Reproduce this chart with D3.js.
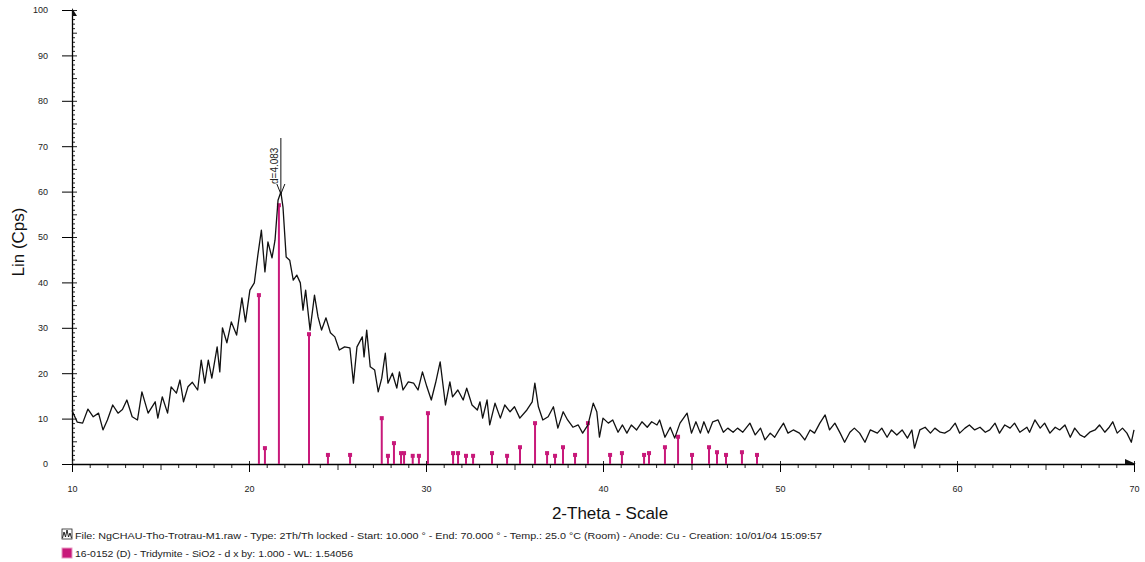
<!DOCTYPE html>
<html>
<head>
<meta charset="utf-8">
<script src="https://cdn.jsdelivr.net/npm/d3@7"></script>
<style>
body { margin: 0; background: #fff; }
svg { display: block; font-family: "Liberation Sans", Arial, sans-serif; }
</style>
</head>
<body>
<script>
// measured scan, [2-theta, counts]
const scan = [
  [10.0, 11.8], [10.3, 9.2], [10.6, 9.0], [10.9, 12.1], [11.2, 10.4], [11.5, 11.2], [11.75, 7.5],
  [12.0, 9.7], [12.3, 13.0], [12.6, 11.2], [12.85, 12.0], [13.1, 14.1], [13.4, 10.4], [13.7, 9.7],
  [13.95, 15.9], [14.3, 11.2], [14.7, 13.7], [14.85, 10.1], [15.1, 14.8], [15.4, 11.2], [15.6, 17.0],
  [15.9, 15.6], [16.1, 18.5], [16.3, 13.7], [16.55, 17.0], [16.8, 18.0], [17.1, 16.3], [17.3, 22.9],
  [17.5, 17.8], [17.7, 22.9], [17.9, 18.9], [18.2, 25.8], [18.35, 20.3], [18.5, 30.0], [18.75, 26.7],
  [19.0, 31.3], [19.3, 28.4], [19.6, 36.6], [19.8, 31.3], [20.05, 38.3], [20.3, 39.9], [20.5, 46.0],
  [20.7, 51.5], [20.9, 42.3], [21.07, 48.9], [21.3, 45.4], [21.47, 49.3], [21.64, 58.1], [21.8, 59.9],
  [21.92, 56.6], [22.1, 45.6], [22.3, 44.9], [22.5, 40.5], [22.7, 41.6], [22.9, 39.9], [23.05, 33.9],
  [23.2, 38.3], [23.45, 29.5], [23.7, 37.2], [23.9, 32.4], [24.1, 29.5], [24.35, 32.2], [24.6, 28.9],
  [24.85, 28.0], [25.1, 25.1], [25.4, 25.8], [25.7, 25.6], [25.9, 17.8], [26.1, 25.8], [26.4, 28.0],
  [26.5, 23.6], [26.65, 29.5], [26.85, 21.4], [27.1, 20.7], [27.3, 15.9], [27.5, 18.9], [27.7, 24.4],
  [27.85, 17.8], [28.1, 20.0], [28.35, 16.7], [28.5, 20.3], [28.7, 16.3], [29.0, 18.1], [29.3, 17.8],
  [29.55, 16.3], [29.8, 20.3], [30.05, 17.0], [30.3, 14.1], [30.55, 18.0], [30.8, 22.5], [31.1, 13.0],
  [31.35, 18.1], [31.5, 14.8], [31.8, 16.3], [32.1, 14.1], [32.3, 16.7], [32.6, 13.0], [32.9, 11.9],
  [33.05, 13.7], [33.2, 10.1], [33.45, 14.1], [33.6, 8.6], [33.9, 13.4], [34.2, 10.1], [34.45, 13.0],
  [34.75, 11.5], [35.0, 12.6], [35.3, 10.1], [35.7, 11.9], [36.0, 13.7], [36.15, 17.8], [36.35, 12.6],
  [36.6, 9.7], [36.9, 10.4], [37.2, 12.6], [37.45, 7.9], [37.75, 11.5], [38.0, 9.7], [38.3, 8.1],
  [38.6, 8.6], [38.85, 6.8], [39.15, 8.6], [39.45, 13.4], [39.65, 11.5], [39.8, 5.9], [40.0, 10.1],
  [40.3, 9.0], [40.55, 9.7], [40.85, 7.0], [41.1, 8.6], [41.35, 6.8], [41.6, 8.6], [41.9, 7.5],
  [42.2, 9.3], [42.5, 8.1], [42.75, 9.3], [43.05, 8.6], [43.2, 9.7], [43.5, 5.9], [43.8, 8.1],
  [44.05, 5.7], [44.35, 9.0], [44.75, 11.2], [45.0, 6.8], [45.25, 9.3], [45.5, 6.8], [45.7, 9.3],
  [45.95, 6.8], [46.2, 9.3], [46.5, 9.7], [46.8, 7.0], [47.05, 7.9], [47.35, 7.0], [47.6, 7.9],
  [47.9, 7.0], [48.3, 9.0], [48.6, 6.4], [48.9, 7.9], [49.15, 5.3], [49.45, 6.8], [49.7, 5.9],
  [49.95, 7.5], [50.2, 9.0], [50.45, 6.8], [50.75, 7.5], [51.1, 6.8], [51.4, 5.3], [51.7, 7.5],
  [51.95, 6.8], [52.25, 9.0], [52.55, 10.8], [52.8, 7.5], [53.1, 9.0], [53.4, 6.8], [53.65, 4.8],
  [53.95, 7.0], [54.2, 7.9], [54.5, 6.8], [54.8, 4.8], [55.1, 7.5], [55.5, 6.8], [55.75, 7.9],
  [56.05, 5.9], [56.3, 7.5], [56.6, 6.4], [56.9, 7.5], [57.2, 5.7], [57.45, 7.5], [57.6, 3.5],
  [57.9, 7.5], [58.2, 8.1], [58.5, 6.8], [58.75, 7.9], [59.05, 7.0], [59.3, 6.8], [59.6, 7.5],
  [59.9, 9.0], [60.15, 6.8], [60.45, 7.9], [60.7, 8.6], [61.0, 7.5], [61.3, 8.1], [61.6, 7.0],
  [61.85, 7.5], [62.15, 9.0], [62.4, 6.8], [62.7, 8.6], [63.0, 7.9], [63.25, 9.0], [63.55, 7.0],
  [63.95, 8.1], [64.1, 7.0], [64.4, 9.7], [64.7, 7.9], [64.95, 9.0], [65.25, 6.8], [65.55, 8.1],
  [65.8, 7.5], [66.1, 8.6], [66.4, 5.9], [66.65, 7.9], [66.95, 6.4], [67.2, 5.9], [67.5, 7.0],
  [67.8, 7.5], [68.05, 8.6], [68.35, 7.0], [68.6, 8.1], [68.8, 9.3], [69.05, 6.8], [69.35, 7.9],
  [69.6, 6.8], [69.85, 4.8], [70.0, 7.5]
];

// 16-0152 Tridymite reference lines
const stickAngles = [20.56, 20.9, 21.69, 23.39, 24.46, 25.71, 27.5, 27.85, 28.19, 28.59, 28.76,
  29.25, 29.6, 30.11, 31.53, 31.81, 32.26, 32.66, 33.73, 34.58, 35.31, 36.16, 36.84, 37.29,
  37.74, 38.42, 39.15, 40.4, 41.07, 42.32, 42.6, 43.5, 44.24, 45.03, 45.99, 46.44, 46.95,
  47.85, 48.7];
const stickIntensities = [37.2, 3.5, 57.0, 28.6, 2.0, 2.0, 10.1, 1.8, 4.6, 2.4, 2.4,
  1.8, 1.8, 11.2, 2.4, 2.4, 1.8, 1.8, 2.4, 1.8, 3.7, 9.0, 2.4, 1.8,
  3.7, 2.0, 9.0, 2.0, 2.4, 2.0, 2.4, 3.7, 6.0, 2.0, 3.7, 2.6, 2.0,
  2.6, 2.0];

const xTicks = [10, 20, 30, 40, 50, 60, 70];
const yTicks = [0, 10, 20, 30, 40, 50, 60, 70, 80, 90, 100];

const peakAngle = 21.8;
const peakLabel = "d=4.083";
const legendLines = [
  "File: NgCHAU-Tho-Trotrau-M1.raw - Type: 2Th/Th locked - Start: 10.000 \u00b0 - End: 70.000 \u00b0 - Temp.: 25.0 \u00b0C (Room) - Anode: Cu - Creation: 10/01/04 15:09:57",
  "16-0152 (D) - Tridymite - SiO2 - d x by: 1.000 - WL: 1.54056"
];

const STICK_COLOR = "#c8197a";

const x = d3.scaleLinear().domain([10, 70]).range([72, 1134]);
const y = d3.scaleLinear().domain([0, 100]).range([464, 10]);

const svg = d3.select("body").append("svg")
  .attr("width", 1145)
  .attr("height", 562);

// minor ticks, y (ruler on the inside)
svg.append("g")
  .attr("transform", `translate(${x(10)},0)`)
  .call(d3.axisRight(y).tickValues(d3.range(0, 101, 1)).tickSize(3).tickFormat("").tickSizeOuter(0))
  .call(g => g.select(".domain").remove())
  .call(g => g.selectAll(".tick line").attr("x2", d => d % 5 === 0 ? 5 : 3).attr("stroke", "#222"));

// major ticks + labels, y
svg.append("g")
  .attr("transform", `translate(${x(10)},0)`)
  .call(d3.axisLeft(y).tickValues(yTicks).tickSize(10).tickPadding(14).tickSizeOuter(0))
  .call(g => g.select(".domain").attr("stroke-width", 1.3))
  .call(g => g.selectAll("text").attr("font-size", 9).attr("fill", "#222"));

// minor ticks, x
svg.append("g")
  .attr("transform", `translate(0,${y(0)})`)
  .call(d3.axisBottom(x).tickValues(d3.range(10, 71, 1)).tickSize(4).tickFormat("").tickSizeOuter(0))
  .call(g => g.select(".domain").remove())
  .call(g => g.selectAll(".tick line").attr("y1", d => d % 10 === 0 ? -3 : 0).attr("y2", d => d % 5 === 0 ? 6 : 4).attr("stroke", "#222"));

// major ticks + labels, x
svg.append("g")
  .attr("transform", `translate(0,${y(0)})`)
  .call(d3.axisBottom(x).tickValues(xTicks).tickSize(8).tickPadding(14).tickSizeOuter(0))
  .call(g => g.select(".domain").attr("stroke-width", 1.3))
  .call(g => g.selectAll("text").attr("font-size", 9).attr("fill", "#222"));

// little arrow heads at the axis ends
svg.append("path")
  .attr("d", `M${x(10)},${y(100) - 2}L${x(10) + 5},${y(100) + 6}L${x(10)},${y(100) + 6}Z`)
  .attr("fill", "#111");
svg.append("path")
  .attr("d", `M${x(70) - 9},${y(0) - 5}L${x(70) + 2},${y(0)}L${x(70) - 9},${y(0)}Z`)
  .attr("fill", "#111");

// reference sticks
const sticks = svg.append("g").selectAll("g")
  .data(stickAngles.map((a, i) => ({ a, v: stickIntensities[i] })))
  .join("g");
sticks.append("line")
  .attr("x1", d => x(d.a)).attr("x2", d => x(d.a))
  .attr("y1", y(0)).attr("y2", d => y(d.v))
  .attr("stroke", STICK_COLOR).attr("stroke-width", 2);
sticks.append("rect")
  .attr("x", d => x(d.a) - 2).attr("y", d => y(d.v) - 2)
  .attr("width", 4).attr("height", 4)
  .attr("fill", STICK_COLOR);

// the scan
svg.append("path")
  .datum(scan)
  .attr("d", d3.line().x(d => x(d[0])).y(d => y(d[1])))
  .attr("fill", "none")
  .attr("stroke", "#111")
  .attr("stroke-width", 1.3)
  .attr("stroke-linejoin", "round");

// peak marker
const px = x(peakAngle);
svg.append("line")
  .attr("x1", px).attr("x2", px).attr("y1", 138).attr("y2", 194)
  .attr("stroke", "#111").attr("stroke-width", 1);
svg.append("path")
  .attr("d", `M${px - 4},${184}L${px},${194}L${px + 4},${184}`)
  .attr("fill", "none").attr("stroke", "#111").attr("stroke-width", 1);
svg.append("text")
  .attr("transform", `translate(${px - 3},184) rotate(-90)`)
  .attr("font-size", 10)
  .attr("fill", "#222")
  .text(peakLabel);

// axis titles
svg.append("text")
  .attr("x", 610).attr("y", 519)
  .attr("text-anchor", "middle")
  .attr("font-size", 17)
  .attr("fill", "#111")
  .text("2-Theta - Scale");
svg.append("text")
  .attr("transform", "translate(24,242) rotate(-90)")
  .attr("text-anchor", "middle")
  .attr("font-size", 17)
  .attr("fill", "#111")
  .text("Lin (Cps)");

// legend
const icon = svg.append("g").attr("transform", "translate(62,529)");
icon.append("rect").attr("width", 10).attr("height", 10)
  .attr("fill", "none").attr("stroke", "#222").attr("stroke-width", 0.8);
icon.append("path")
  .attr("d", "M0.5,9L2,3L3.5,8L5,1L6.5,8L8,4L9.5,9")
  .attr("fill", "none").attr("stroke", "#111").attr("stroke-width", 0.9);
svg.append("rect")
  .attr("x", 62).attr("y", 548).attr("width", 10).attr("height", 10)
  .attr("fill", STICK_COLOR).attr("stroke", "#e79ac2").attr("stroke-width", 1);

svg.append("text")
  .attr("x", 75).attr("y", 539)
  .attr("font-size", 9)
  .attr("textLength", 747).attr("lengthAdjust", "spacingAndGlyphs")
  .attr("fill", "#222")
  .text(legendLines[0]);
svg.append("text")
  .attr("x", 75).attr("y", 557)
  .attr("font-size", 9)
  .attr("textLength", 278).attr("lengthAdjust", "spacingAndGlyphs")
  .attr("fill", "#222")
  .text(legendLines[1]);
</script>
</body>
</html>
